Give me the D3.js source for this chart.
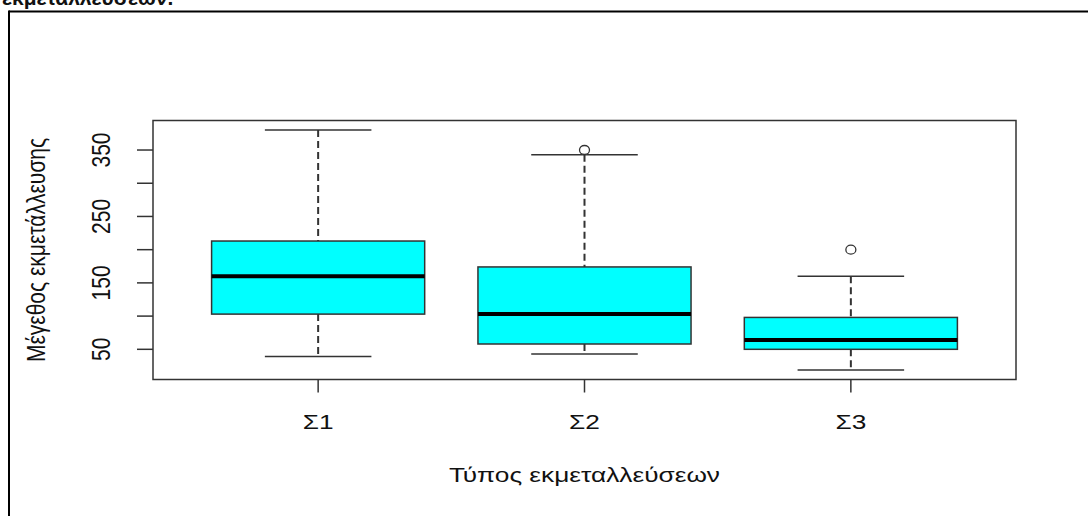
<!DOCTYPE html>
<html>
<head>
<meta charset="utf-8">
<script src="https://cdn.jsdelivr.net/npm/d3@7"></script>
<style>
  html, body { margin: 0; padding: 0; background: #fff; }
  svg { display: block; }
  text { font-family: "Liberation Sans", Arial, sans-serif; fill: #111; }
</style>
</head>
<body>
<svg id="chart" width="1089" height="516"></svg>
<script>
// Farm size by farm type: five-number summaries plus outliers
const categories = ["Σ1", "Σ2", "Σ3"];
const lowerWhisker = [39, 43, 19];
const q1 = [103, 58, 50];
const median = [160, 103, 64];
const q3 = [213, 174, 98];
const upperWhisker = [380, 343, 160];
const outliers = [[], [350], [200]];

const yTicks = [50, 100, 150, 200, 250, 300, 350];
const yTickLabels = ["50", "", "150", "", "250", "", "350"];
const xTitle = "Τύπος εκμεταλλεύσεων";
const yTitle = "Μέγεθος εκμετάλλευσης";
const headerText = "εκμεταλλεύσεων.";

const svg = d3.select("#chart");
const W = 1089, H = 516;
const plot = { left: 153, right: 1016, top: 120.5, bottom: 379.5 };
const stretch = 1.25;   // horizontal text stretch
const fontSize = 21;

// R-style 4% padding around the data range
const allVals = lowerWhisker.concat(upperWhisker, outliers.flat());
const [lo, hi] = d3.extent(allVals);
const pad = (hi - lo) * 0.04;
const y = d3.scaleLinear().domain([lo - pad, hi + pad]).range([plot.bottom, plot.top]);
const xr = [0.5, categories.length + 0.5];
const xpad = (xr[1] - xr[0]) * 0.04;
const x = d3.scaleLinear().domain([xr[0] - xpad, xr[1] + xpad]).range([plot.left, plot.right]);

// page frame
svg.append("line").attr("x1", 9).attr("x2", 1088).attr("y1", 11.5).attr("y2", 11.5)
  .attr("stroke", "#000").attr("stroke-width", 2);
svg.append("line").attr("x1", 9).attr("x2", 9).attr("y1", 10.5).attr("y2", H)
  .attr("stroke", "#000").attr("stroke-width", 2);

svg.append("text")
  .attr("transform", "translate(2,4.5)")
  .attr("font-size", fontSize).attr("font-weight", "bold")
  .text(headerText);

// boxes
const idx = d3.range(categories.length);
const g = svg.append("g");
const boxHalf = 0.4, capHalf = 0.2;

idx.forEach(i => {
  const cx = x(i + 1);
  // whiskers
  g.append("line").attr("x1", cx).attr("x2", cx)
    .attr("y1", y(upperWhisker[i])).attr("y2", y(q3[i]))
    .attr("stroke", "#333").attr("stroke-width", 2).attr("stroke-dasharray", "7,4");
  g.append("line").attr("x1", cx).attr("x2", cx)
    .attr("y1", y(q1[i])).attr("y2", y(lowerWhisker[i]))
    .attr("stroke", "#333").attr("stroke-width", 2).attr("stroke-dasharray", "7,4");
  // caps
  [upperWhisker[i], lowerWhisker[i]].forEach(v => {
    g.append("line").attr("x1", x(i + 1 - capHalf)).attr("x2", x(i + 1 + capHalf))
      .attr("y1", y(v)).attr("y2", y(v))
      .attr("stroke", "#333").attr("stroke-width", 1.5);
  });
  // box
  g.append("rect")
    .attr("x", x(i + 1 - boxHalf)).attr("width", x(i + 1 + boxHalf) - x(i + 1 - boxHalf))
    .attr("y", y(q3[i])).attr("height", y(q1[i]) - y(q3[i]))
    .attr("fill", "#00FFFF").attr("stroke", "#333").attr("stroke-width", 1.5);
  // median
  g.append("line").attr("x1", x(i + 1 - boxHalf)).attr("x2", x(i + 1 + boxHalf))
    .attr("y1", y(median[i])).attr("y2", y(median[i]))
    .attr("stroke", "#000").attr("stroke-width", 4);
  // outliers
  outliers[i].forEach(v => {
    g.append("ellipse").attr("cx", cx).attr("cy", y(v)).attr("rx", 5).attr("ry", 4.5)
      .attr("fill", "#fff").attr("stroke", "#333").attr("stroke-width", 1.3);
  });
});

// plot frame
svg.append("rect").attr("x", plot.left).attr("y", plot.top)
  .attr("width", plot.right - plot.left).attr("height", plot.bottom - plot.top)
  .attr("fill", "none").attr("stroke", "#333").attr("stroke-width", 1.5);

// y axis ticks
const yAxis = svg.append("g");
yTicks.forEach((t, k) => {
  yAxis.append("line").attr("x1", plot.left - 16).attr("x2", plot.left)
    .attr("y1", y(t)).attr("y2", y(t)).attr("stroke", "#333").attr("stroke-width", 1.5);
  if (yTickLabels[k]) {
    yAxis.append("text")
      .attr("transform", `translate(110,${y(t)}) scale(${stretch},1) rotate(-90)`)
      .attr("text-anchor", "middle").attr("font-size", fontSize)
      .text(yTickLabels[k]);
  }
});

// x axis ticks
const xAxis = svg.append("g");
idx.forEach(i => {
  xAxis.append("line").attr("x1", x(i + 1)).attr("x2", x(i + 1))
    .attr("y1", plot.bottom).attr("y2", plot.bottom + 13)
    .attr("stroke", "#333").attr("stroke-width", 1.5);
  xAxis.append("text")
    .attr("transform", `translate(${x(i + 1)},429) scale(${stretch},1)`)
    .attr("text-anchor", "middle").attr("font-size", fontSize)
    .text(categories[i]);
});

// axis titles
svg.append("text")
  .attr("transform", `translate(${(plot.left + plot.right) / 2},482) scale(${stretch},1)`)
  .attr("text-anchor", "middle").attr("font-size", fontSize)
  .text(xTitle);
svg.append("text")
  .attr("transform", `translate(45,${(plot.top + plot.bottom) / 2}) scale(${stretch},1) rotate(-90)`)
  .attr("text-anchor", "middle").attr("font-size", fontSize)
  .text(yTitle);
</script>
</body>
</html>
